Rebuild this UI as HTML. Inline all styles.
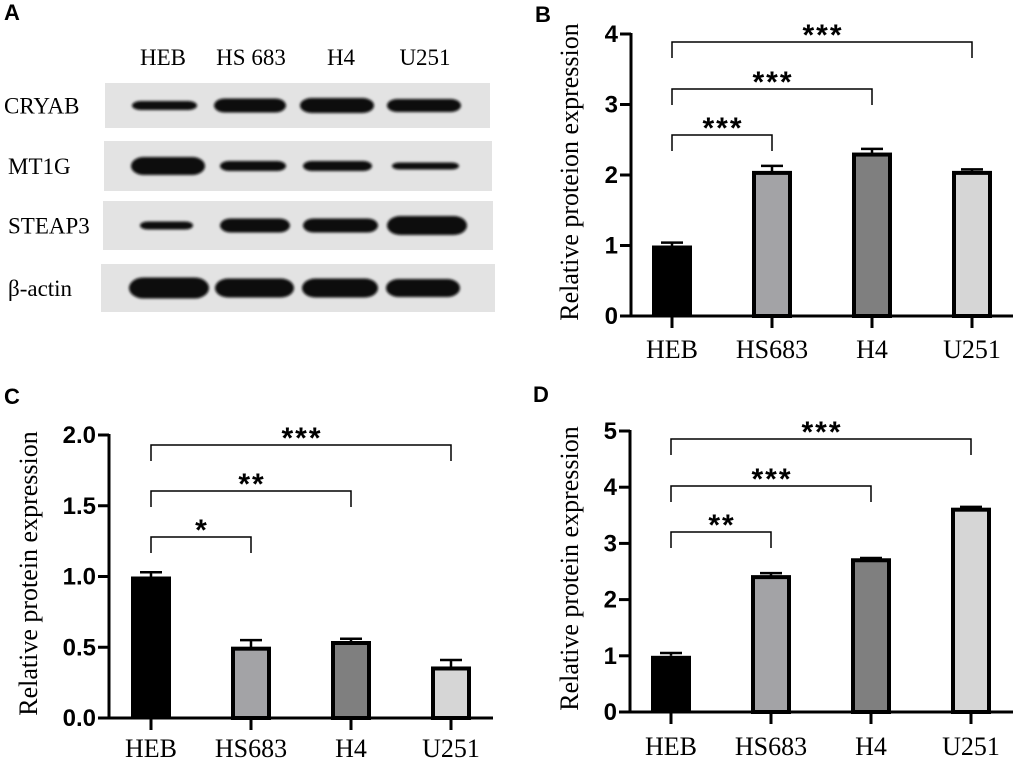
<!DOCTYPE html>
<html><head><meta charset="utf-8"><style>
html,body{margin:0;padding:0;background:#fff;width:1020px;height:760px;overflow:hidden}
svg{display:block}
.pl{font-family:"Liberation Sans",Arial,sans-serif;font-weight:bold;font-size:22px}
.tk{font-family:"Liberation Sans",Arial,sans-serif;font-weight:bold;font-size:24px}
.tm{font-family:"Liberation Serif","Times New Roman",serif;font-size:23px}
.ax{font-family:"Liberation Serif","Times New Roman",serif;font-size:26px}
.xl{font-family:"Liberation Serif","Times New Roman",serif;font-size:26px}
.st{font-family:"Liberation Sans",Arial,sans-serif;font-weight:bold;font-size:30px;letter-spacing:2px}
</style></head><body>
<svg id="fig" width="1020" height="760" viewBox="0 0 1020 760">
<defs><filter id="bl" x="-10%" y="-50%" width="120%" height="200%"><feGaussianBlur stdDeviation="1.2"/></filter></defs>
<g>
<text class="pl" x="4" y="20">A</text>
<text class="tm" x="163" y="65" text-anchor="middle">HEB</text>
<text class="tm" x="251" y="65" text-anchor="middle">HS 683</text>
<text class="tm" x="341" y="65" text-anchor="middle">H4</text>
<text class="tm" x="425" y="65" text-anchor="middle">U251</text>
<g id="blots"></g>
</g>
<g id="pB"></g><g id="pC"></g><g id="pD"></g>
</svg>
<script>
const NS="http://www.w3.org/2000/svg";
function mk(p,t,a){const e=document.createElementNS(NS,t);for(const k in a)e.setAttribute(k,a[k]);p.appendChild(e);return e;}
// Western blot
const blotRows=["CRYAB","MT1G","STEAP3","β-actin"];
const strips=[[105,83,385,45],[104,141,388,50],[103,201,390,49],[101,264,394,48]];
const bands=[
 [[132,197,9],[214,286,14],[300,374,15],[387,461,13]],
 [[131,205,18],[220,286,10],[303,372,10],[392,459,7]],
 [[140,193,8],[220,290,14],[303,378,14],[387,467,19]],
 [[129,209,21],[215,294,19],[302,378,19],[386,460,18]]];
const bg=document.getElementById('blots');
blotRows.forEach((r,i)=>{
 const s=strips[i];
 const st=mk(bg,'rect',{x:s[0],y:s[1],width:s[2],height:s[3],fill:'#e3e3e3'});
 
 
 const cy=s[1]+s[3]/2;
 const t=mk(bg,'text',{x:i==0?4:8,y:cy+8,class:'tm'});t.textContent=r;
 
 
 bands[i].forEach(b=>{
  const e=mk(bg,'rect',{x:b[0],y:cy-b[2]/2,width:b[1]-b[0],height:b[2],rx:b[2]/2+4,ry:b[2]/2,fill:'#0a0a0a',filter:'url(#bl)'});
  
  
 });
});
// Bar charts
const categories=["HEB","HS683","H4","U251"];
const fills=["#000","#a3a3a6","#7f7f7f","#d6d6d6"];
const valuesB=[1.0,2.03,2.29,2.03], errB=[0.04,0.10,0.08,0.05];
const valuesC=[1.0,0.49,0.53,0.35], errC=[0.03,0.06,0.03,0.06];
const valuesD=[1.0,2.4,2.7,3.6], errD=[0.05,0.07,0.04,0.05];
const ticksB=["0","1","2","3","4"], tickValsB=[0,1,2,3,4];
const ticksC=["0.0","0.5","1.0","1.5","2.0"], tickValsC=[0,0.5,1,1.5,2];
const ticksD=["0","1","2","3","4","5"], tickValsD=[0,1,2,3,4,5];
const sigB=["***","***","***"], sigC=["*","**","***"], sigD=["**","***","***"];
const yTitleB="Relative proteion expression", yTitleC="Relative protein expression", yTitleD="Relative protein expression";

function chart(id,cfg){
 const g=document.getElementById(id);
 
 
 const y=v=>cfg.y0-(v-0)/cfg.ymax*(cfg.y0-cfg.yTop);
 const x=i=>cfg.xs+i*cfg.dx;
 const L=mk(g,'text',{x:cfg.lx,y:cfg.ly,class:'pl'});L.textContent=cfg.letter;
 
 
 const yt=mk(g,'text',{x:0,y:0,class:'ax','text-anchor':'middle',transform:`translate(${cfg.ytx},${(cfg.y0+cfg.yTop)/2-3}) rotate(-90)`});
 yt.textContent=cfg.title;
 
 
 const ya=mk(g,'line',{x1:cfg.ax,x2:cfg.ax,y1:cfg.yTop-1,y2:cfg.y0+1.5,stroke:'#000','stroke-width':3});
 
 
 cfg.tv.forEach((v,i)=>{
  mk(g,'line',{x1:cfg.ax-11,x2:cfg.ax,y1:y(v),y2:y(v),stroke:'#000','stroke-width':3});
  const t=mk(g,'text',{x:cfg.ax-13,y:y(v)+8,class:'tk','text-anchor':'end'});t.textContent=cfg.tl[i];
  
  
 });
 cfg.vals.forEach((v,i)=>{
  const cx=x(i),w=36;
  const e=mk(g,'line',{x1:cx,x2:cx,y1:y(v),y2:y(v+cfg.err[i]),stroke:'#000','stroke-width':2.5});
  mk(g,'line',{x1:cx-11,x2:cx+11,y1:y(v+cfg.err[i]),y2:y(v+cfg.err[i]),stroke:'#000','stroke-width':2.5});
  
  
  const b=mk(g,'rect',{x:cx-w/2,y:y(v),width:w,height:cfg.y0-y(v),fill:fills[i],stroke:'#000','stroke-width':i==0?0:4});
  if(i==0){b.setAttribute('x',cx-20);b.setAttribute('width',40);}
  
  
  mk(g,'line',{x1:cx,x2:cx,y1:cfg.y0,y2:cfg.y0+12,stroke:'#000','stroke-width':3});
  const t=mk(g,'text',{x:cx,y:cfg.xly,class:'xl','text-anchor':'middle'});t.textContent=categories[i];
  
  
 });
 const xa=mk(g,'line',{x1:cfg.ax-11,x2:cfg.xe,y1:cfg.y0,y2:cfg.y0,stroke:'#000','stroke-width':3});
 
 
 cfg.br.forEach((by,k)=>{
  const x2=x(k+1),x1=x(0);
  const p=mk(g,'path',{d:`M${x1},${by+16}V${by}H${x2}V${by+16}`,fill:'none',stroke:'#000','stroke-width':1.5});
  
  
  const t=mk(g,'text',{x:(x1+x2)/2+1,y:by+3,class:'st','text-anchor':'middle'});t.textContent=cfg.sig[k];
  
  
 });
}
chart('pB',{letter:'B',lx:535,ly:22,ytx:578,ax:631,yTop:34,y0:316,ymax:4,xs:672,dx:100,xe:1013,xly:358,vals:valuesB,err:errB,tv:tickValsB,tl:ticksB,title:yTitleB,br:[135,89,42],sig:sigB});
chart('pC',{letter:'C',lx:4,ly:404,ytx:37,ax:109,yTop:435,y0:718,ymax:2,xs:151,dx:100,xe:493,xly:757,vals:valuesC,err:errC,tv:tickValsC,tl:ticksC,title:yTitleC,br:[537,491,445],sig:sigC});
chart('pD',{letter:'D',lx:533,ly:402,ytx:578,ax:630,yTop:431,y0:712,ymax:5,xs:671,dx:100,xe:1013,xly:755,vals:valuesD,err:errD,tv:tickValsD,tl:ticksD,title:yTitleD,br:[532,486,439],sig:sigD});
</script>
</body></html>
